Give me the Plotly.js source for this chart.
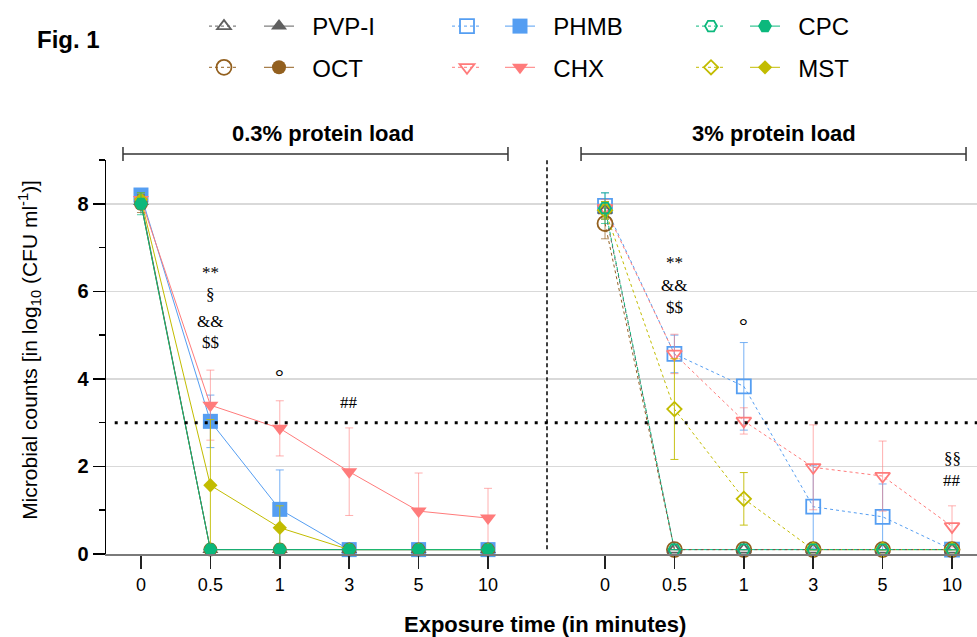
<!DOCTYPE html>
<html><head><meta charset="utf-8">
<script src="https://cdn.plot.ly/plotly-3.0.1.min.js"></script>
<style>html,body{margin:0;padding:0;background:#fff}</style>
</head><body><div id="chart" style="width:977px;height:637px"></div>
<script>
// ---- categories ----
const timeLabels = ['0', '0.5', '1', '3', '5', '10'];

// ---- 0.3% protein load: mean log10 CFU/ml and error (SD) ----
const pvpLow   = [8.05, 0.1, 0.1, 0.1, 0.1, 0.1];
const pvpLowE  = [0.15, 0, 0, 0, 0, 0];
const octLow   = [8.0, 0.1, 0.1, 0.1, 0.1, 0.1];
const octLowE  = [0.2, 0, 0, 0, 0, 0];
const phmbLow  = [8.2, 3.03, 1.02, 0.1, 0.1, 0.1];
const phmbLowE = [0.1, 0.6, 0.9, 0, 0, 0];
const chxLow   = [8.1, 3.4, 2.87, 1.88, 0.98, 0.82];
const chxLowE  = [0.15, 0.8, 0.63, 1.0, 0.87, 0.68];
const cpcLow   = [8.0, 0.1, 0.1, 0.1, 0.1, 0.1];
const cpcLowE  = [0.25, 0, 0, 0, 0, 0];
const mstLow   = [8.1, 1.57, 0.6, 0.1, 0.1, 0.1];
const mstLowE  = [0.15, 1.5, 0.5, 0, 0, 0];

// ---- 3% protein load ----
const pvpHigh   = [7.85, 0.1, 0.1, 0.1, 0.1, 0.1];
const pvpHighE  = [0.2, 0, 0, 0, 0, 0];
const octHigh   = [7.55, 0.1, 0.1, 0.1, 0.1, 0.1];
const octHighE  = [0.35, 0, 0, 0, 0, 0];
const phmbHigh  = [7.95, 4.57, 3.83, 1.08, 0.85, 0.1];
const phmbHighE = [0.3, 0.43, 1.0, 0.95, 0.75, 0];
const chxHigh   = [7.9, 4.57, 3.04, 1.98, 1.78, 0.63];
const chxHighE  = [0.2, 0.45, 0.3, 0.97, 0.8, 0.47];
const cpcHigh   = [7.9, 0.1, 0.1, 0.1, 0.1, 0.1];
const cpcHighE  = [0.35, 0, 0, 0, 0, 0];
const mstHigh   = [7.85, 3.31, 1.26, 0.1, 0.1, 0.1];
const mstHighE  = [0.2, 1.15, 0.6, 0, 0, 0];

// ---- significance labels ----
const sigLowText  = ['**', '§', '&&', '$$', '°', '##'];
const sigHighText = ['**', '&&', '$$', '°', '§§', '##'];

const FONT = 'Liberation Sans, Arial, sans-serif';
const SERIF = 'Liberation Serif, Times New Roman, serif';

const col = {
  pvp: '#606060', oct: '#93601f', phmb: '#559ef2',
  chx: '#ff7b7b', cpc: '#0bb87c', mst: '#c2bc00'
};
const errCol = {
  pvp: 'rgba(96,96,96,0.7)', oct: 'rgba(147,96,31,0.7)', phmb: 'rgba(85,158,242,0.8)',
  chx: 'rgba(255,123,123,0.6)', cpc: 'rgba(11,184,124,0.7)', mst: 'rgba(194,188,0,0.9)'
};

function filled(name, y, e, c, sym, size, legend, rank) {
  return {
    type: 'scatter', mode: 'lines+markers', x: timeLabels, y: y,
    xaxis: 'x', yaxis: 'y', name: '\u00a0\u00a0' + name,
    legend: legend, legendgroup: 'f' + name, legendrank: rank,
    line: {color: col[c], width: 1},
    marker: {symbol: sym, size: size, color: col[c], line: {width: 0}},
    error_y: {type: 'data', array: e, visible: true, color: errCol[c], thickness: 1, width: 4},
    cliponaxis: false
  };
}
function open(name, y, e, c, sym, size, legend, rank) {
  return {
    type: 'scatter', mode: 'lines+markers', x: timeLabels, y: y,
    xaxis: 'x2', yaxis: 'y', name: '\u00a0',
    legend: legend, legendgroup: 'o' + name, legendrank: rank,
    line: {color: col[c], width: 1, dash: 'dot'},
    marker: {symbol: sym + '-open', size: size, color: col[c], line: {width: 1.8, color: col[c]}},
    error_y: {type: 'data', array: e, visible: true, color: errCol[c], thickness: 1, width: 4},
    cliponaxis: false
  };
}

const data = [
  filled('PHMB', phmbLow, phmbLowE, 'phmb', 'square', 15, 'legend4', 1),
  filled('CHX', chxLow, chxLowE, 'chx', 'triangle-down', 14, 'legend4', 2),
  filled('PVP-I', pvpLow, pvpLowE, 'pvp', 'triangle-up', 14, 'legend2', 1),
  filled('OCT', octLow, octLowE, 'oct', 'circle', 14, 'legend2', 2),
  filled('MST', mstLow, mstLowE, 'mst', 'diamond', 11, 'legend6', 2),
  filled('CPC', cpcLow, cpcLowE, 'cpc', 'hexagon2', 14, 'legend6', 1),
  open('PHMB', phmbHigh, phmbHighE, 'phmb', 'square', 14, 'legend3', 1),
  open('CHX', chxHigh, chxHighE, 'chx', 'triangle-down', 13, 'legend3', 2),
  open('OCT', octHigh, octHighE, 'oct', 'circle', 15, 'legend', 2),
  open('PVP-I', pvpHigh, pvpHighE, 'pvp', 'triangle-up', 12, 'legend', 1),
  open('MST', mstHigh, mstHighE, 'mst', 'diamond', 11, 'legend5', 2),
  open('CPC', cpcHigh, cpcHighE, 'cpc', 'hexagon2', 12, 'legend5', 1)
];

function lg(xpx) {
  return {
    x: xpx / 977, y: 1 - 4 / 637, xref: 'container', yref: 'container',
    xanchor: 'left', yanchor: 'top', orientation: 'v',
    font: {family: FONT, size: 24, color: '#000'},
    bgcolor: 'rgba(0,0,0,0)', borderwidth: 0, tracegroupgap: 7,
    traceorder: 'grouped', itemclick: false, itemdoubleclick: false
  };
}

const leftDom = (547 - 106) / 871;
const xCommon = {
  type: 'category', showline: true, linecolor: '#7a7a7a', linewidth: 2,
  ticks: 'outside', ticklen: 13, tickwidth: 1.5, tickcolor: '#222',
  showgrid: false, zeroline: false,
  tickfont: {family: FONT, size: 18, color: '#000'}
};

const shapes = [
  // panel divider
  {type: 'line', xref: 'paper', yref: 'paper', x0: leftDom, x1: leftDom, y0: 0.012, y1: 1,
   line: {color: '#000', width: 1.5, dash: '4px,3px'}},
  // 3 log10 reduction threshold
  {type: 'line', xref: 'paper', yref: 'y', x0: 0.01, x1: 1, y0: 3, y1: 3,
   line: {color: '#000', width: 3, dash: '3px,7px'}},
  // brackets
  {type: 'line', xref: 'paper', yref: 'paper', x0: 0.0195, x1: 0.4615, y0: 1.0152, y1: 1.0152, line: {color: '#333', width: 1.5}},
  {type: 'line', xref: 'paper', yref: 'paper', x0: 0.0195, x1: 0.0195, y0: 0.9975, y1: 1.033, line: {color: '#333', width: 1.5}},
  {type: 'line', xref: 'paper', yref: 'paper', x0: 0.4615, x1: 0.4615, y0: 0.9975, y1: 1.033, line: {color: '#333', width: 1.5}},
  {type: 'line', xref: 'paper', yref: 'paper', x0: 0.5454, x1: 0.9874, y0: 1.0152, y1: 1.0152, line: {color: '#333', width: 1.5}},
  {type: 'line', xref: 'paper', yref: 'paper', x0: 0.5454, x1: 0.5454, y0: 0.9975, y1: 1.033, line: {color: '#333', width: 1.5}},
  {type: 'line', xref: 'paper', yref: 'paper', x0: 0.9874, x1: 0.9874, y0: 0.9975, y1: 1.033, line: {color: '#333', width: 1.5}}
];

function sig(text, xr, x, y, size) {
  return {text: text, xref: xr, yref: 'y', x: x, y: y, showarrow: false,
          xanchor: 'center', yanchor: 'middle',
          font: {family: SERIF, size: size || 17, color: '#000'}};
}

const annotations = [
  {text: '<b>Fig. 1</b>', xref: 'paper', yref: 'paper', x: -0.0815, y: 1.307, xanchor: 'left', yanchor: 'middle',
   showarrow: false, font: {family: FONT, size: 24, color: '#000'}},
  {text: '<b>0.3% protein load</b>', xref: 'paper', yref: 'paper', x: 0.249, y: 1.0685, xanchor: 'center', yanchor: 'middle',
   showarrow: false, font: {family: FONT, size: 22, color: '#000'}},
  {text: '<b>3% protein load</b>', xref: 'paper', yref: 'paper', x: 0.767, y: 1.0685, xanchor: 'center', yanchor: 'middle',
   showarrow: false, font: {family: FONT, size: 22, color: '#000'}},
  {text: '<b>Exposure time (in minutes)</b>', xref: 'paper', yref: 'paper', x: 0.504, y: -0.18, xanchor: 'center', yanchor: 'middle',
   showarrow: false, font: {family: FONT, size: 22, color: '#000'}},
  {text: 'Microbial counts [in log<sub>10</sub> (CFU ml<sup>-1</sup>)]', xref: 'paper', yref: 'paper',
   x: -0.0873, y: 0.518, xanchor: 'center', yanchor: 'middle', textangle: -90,
   showarrow: false, font: {family: FONT, size: 21, color: '#000'}},
  sig(sigLowText[0], 'x', 1, 6.42), sig(sigLowText[1], 'x', 1, 5.92), sig(sigLowText[2], 'x', 1, 5.30),
  sig(sigLowText[3], 'x', 1, 4.82), sig(sigLowText[4], 'x', 2, 4.05, 22), sig(sigLowText[5], 'x', 3, 3.47),
  sig(sigHighText[0], 'x2', 1, 6.65), sig(sigHighText[1], 'x2', 1, 6.13), sig(sigHighText[2], 'x2', 1, 5.62),
  sig(sigHighText[3], 'x2', 2, 5.23, 22), sig(sigHighText[4], 'x2', 5, 2.19), sig(sigHighText[5], 'x2', 5, 1.67)
];

const layout = {
  width: 977, height: 637,
  margin: {l: 106, r: 0, t: 160, b: 83, autoexpand: false},
  paper_bgcolor: '#fff', plot_bgcolor: '#fff',
  font: {family: FONT, color: '#000'},
  xaxis: Object.assign({}, xCommon, {domain: [0, leftDom], range: [-0.504, 5.85], anchor: 'y'}),
  xaxis2: Object.assign({}, xCommon, {domain: [leftDom, 1], range: [-0.836, 5.36], anchor: 'y'}),
  yaxis: {
    range: [0, 9], anchor: 'x', showline: true, linecolor: '#000', linewidth: 1.5,
    tickvals: [0, 2, 4, 6, 8], ticks: 'outside', ticklen: 12, tickwidth: 1.5, tickcolor: '#000',
    minor: {dtick: 1, tick0: 0, ticks: 'outside', ticklen: 6, tickwidth: 1.5, tickcolor: '#000', showgrid: false},
    showgrid: true, gridcolor: '#d9d9d9', gridwidth: 1.5, zeroline: false,
    tickfont: {family: FONT, size: 20, color: '#000', weight: 'bold'}
  },
  showlegend: true,
  legend: lg(204), legend2: lg(259), legend3: lg(447), legend4: lg(500), legend5: lg(691), legend6: lg(745),
  shapes: shapes,
  annotations: annotations
};

Plotly.newPlot('chart', data, layout, {displayModeBar: false, staticPlot: true});
</script></body></html>
